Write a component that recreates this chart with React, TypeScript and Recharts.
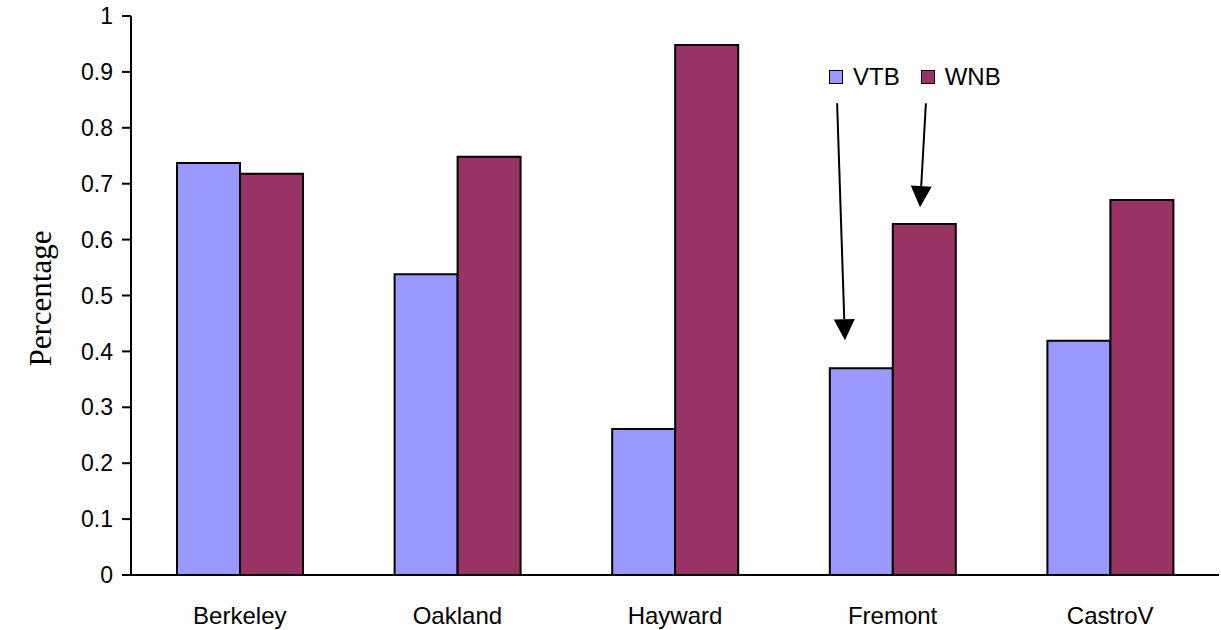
import React from "react";
import {
  BarChart, Bar, XAxis, YAxis, Legend, ReferenceLine,
} from "recharts";

// share of respondents per city
const cities = ["Berkeley", "Oakland", "Hayward", "Fremont", "CastroV"];
const vtb = [0.737, 0.538, 0.261, 0.37, 0.419];
const wnb = [0.718, 0.748, 0.948, 0.628, 0.671];
const yTicks = [0, 0.1, 0.2, 0.3, 0.4, 0.5, 0.6, 0.7, 0.8, 0.9, 1];
const cityEdges = [0, 1, 2, 3, 4, 5];

const series = [
  { key: "VTB", color: "#9999FF" },
  { key: "WNB", color: "#993366" },
];

// pointer arrows, in (city slot, value) units
const arrows = [
  { from: { x: 3.245, y: 0.844 }, to: { x: 3.281, y: 0.42 } },
  { from: { x: 3.653, y: 0.844 }, to: { x: 3.626, y: 0.658 } },
];

const data = cities.map((city, i) => ({ city, slot: i + 0.5, VTB: vtb[i], WNB: wnb[i] }));

const sansFont = "'Liberation Sans', Arial, sans-serif";

const ArrowShape = (props: any) => {
  const { x1, y1, x2, y2 } = props;
  if ([x1, y1, x2, y2].some((v) => v == null || isNaN(v))) return null;
  const dx = x2 - x1;
  const dy = y2 - y1;
  const len = Math.sqrt(dx * dx + dy * dy);
  const ux = dx / len;
  const uy = dy / len;
  const head = 21;
  const half = 10.5;
  const bx = x2 - ux * head;
  const by = y2 - uy * head;
  const pts = [
    `${x2},${y2}`,
    `${bx - uy * half},${by + ux * half}`,
    `${bx + uy * half},${by - ux * half}`,
  ].join(" ");
  return (
    <g>
      <line x1={x1} y1={y1} x2={bx} y2={by} stroke="#000" strokeWidth={2} />
      <polygon points={pts} fill="#000" />
    </g>
  );
};

const LegendContent = () => (
  <div style={{ display: "flex", alignItems: "center", fontFamily: sansFont, fontSize: 24 }}>
    {series.map((s) => (
      <div key={s.key} style={{ display: "flex", alignItems: "center", marginRight: 21 }}>
        <span
          style={{
            display: "inline-block",
            width: 12,
            height: 12,
            background: s.color,
            border: "1.5px solid #000",
            marginRight: 10,
          }}
        />
        <span>{s.key}</span>
      </div>
    ))}
  </div>
);

const YLabel = (props: any) => {
  const vb = props.viewBox || {};
  const cx = vb.x + 40;
  const cy = vb.y + vb.height / 2 + 3;
  return (
    <text
      x={cx}
      y={cy}
      transform={`rotate(-90, ${cx}, ${cy})`}
      textAnchor="middle"
      dominantBaseline="central"
      fontFamily="'Liberation Serif', 'Times New Roman', serif"
      fontSize={31}
      fill="#000"
    >
      Percentage
    </text>
  );
};

export default function App() {
  return (
    <div style={{ position: "absolute", left: 0, top: 0, background: "#fff" }}>
      <BarChart
        width={1221}
        height={630}
        data={data}
        margin={{ top: 16, right: 2, bottom: 0, left: 0 }}
        barGap={0}
        barSize={63}
      >
        <XAxis
          xAxisId="labels"
          dataKey="city"
          height={54}
          axisLine={false}
          tickLine={false}
          tickSize={0}
          tickMargin={31}
          tick={{ fill: "#000", fontSize: 24, fontFamily: sansFont }}
          interval={0}
        />
        {/* numeric axis spanning the city slots: draws the baseline and the slot dividers */}
        <XAxis
          xAxisId="base"
          type="number"
          dataKey="slot"
          domain={[0, 5]}
          allowDataOverflow
          ticks={cityEdges}
          tick={false}
          tickSize={9}
          height={1}
          axisLine={{ stroke: "#000", strokeWidth: 2 }}
          tickLine={{ stroke: "#000", strokeWidth: 2 }}
        />
        <YAxis
          width={131}
          domain={[0, 1]}
          ticks={yTicks}
          interval={0}
          tickFormatter={(v: number) => String(v)}
          tickSize={9}
          tickMargin={9}
          axisLine={{ stroke: "#000", strokeWidth: 2 }}
          tickLine={{ stroke: "#000", strokeWidth: 2 }}
          tick={{ fill: "#000", fontSize: 23, fontFamily: sansFont }}
          label={<YLabel />}
        />
        <Legend
          layout="vertical"
          align="center"
          verticalAlign="middle"
          content={<LegendContent />}
          wrapperStyle={{ left: 829, top: 63, width: "auto" }}
        />
        {series.map((s) => (
          <Bar
            key={s.key}
            xAxisId="labels"
            dataKey={s.key}
            fill={s.color}
            stroke="#000"
            strokeWidth={2}
            isAnimationActive={false}
          />
        ))}
        {arrows.map((a, i) => (
          <ReferenceLine
            key={i}
            xAxisId="base"
            segment={[a.from, a.to]}
            shape={<ArrowShape />}
            ifOverflow="visible"
          />
        ))}
      </BarChart>
    </div>
  );
}
